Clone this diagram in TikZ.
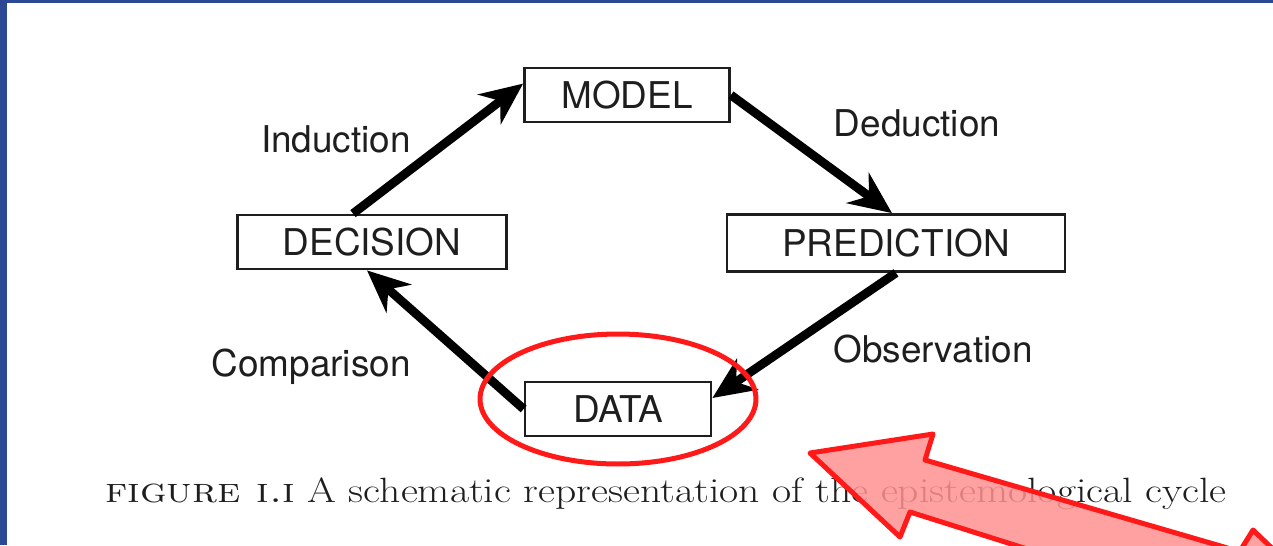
\documentclass[tikz,border=0pt]{standalone}
\usepackage{fontspec}
\setsansfont{TeX Gyre Heros}
\usepackage{xcolor}
\definecolor{frame}{RGB}{43, 72, 148}
\definecolor{ink}{RGB}{30, 30, 30}
\definecolor{marker}{RGB}{255, 25, 25}
\definecolor{markfill}{RGB}{255, 145, 145}
\usetikzlibrary{arrows.meta,positioning}

\tikzset{
  stage/.style={draw=ink, line width=1.6pt, minimum height=1.08cm, inner sep=0pt,
    font=\sffamily\fontsize{21}{24}\selectfont, text=ink},
  flow/.style={-{Stealth[length=8.5mm, width=7.5mm, inset=2.8mm]}, line width=5pt, black},
  tag/.style={font=\sffamily\fontsize{21}{24}\selectfont, text=ink},
}

\begin{document}
\begin{tikzpicture}[x=0.02cm, y=-0.02cm, >=Stealth]
    \useasboundingbox (0,0) rectangle (1273,545);

    % Frame
    \fill[frame] (0,0) rectangle (7,545);
    \fill[frame] (0,0) rectangle (1273,3);

    % Stages of the cycle
    \node[stage, minimum width=4.1cm]  (model)      at (627,95)  {MODEL};
    \node[stage, minimum width=5.38cm] (decision)   at (372,242) {DECISION};
    \node[stage, minimum width=6.76cm, minimum height=1.14cm] (prediction) at (896,243) {PREDICTION};
    \node[stage, minimum width=3.72cm] (data)       at (618,409) {DATA};

    % Arrows
    \draw[flow] ([xshift=-0.38cm]decision.north) -- ([yshift=-0.34cm]model.north west);
    \draw[flow] (model.east) -- ([xshift=-0.08cm]prediction.north);
    \draw[flow] (prediction.south) -- ([yshift=0.22cm]data.east);
    \draw[flow] (data.west) -- ([xshift=-0.1cm]decision.south);

    % Labels
    \node[tag] (induction)   at (336,139) {Induction};
    \node[tag] (deduction)   at (917,123) {Deduction};
    \node[tag] (comparison)  at (311,367) {Comparison};
    \node[tag] (observation) at (933,349) {Observation};

    % Caption
    \node[anchor=base west, inner sep=0pt, font=\fontsize{20}{24}\selectfont, text=ink] (caption)
        at (105,502) {\scalebox{1.185}[1]{\textsc{figure i.i} A schematic representation of the epistemological cycle}};

    % Highlight
    \draw[marker, line width=0.1cm] ([yshift=0.2cm]data.center) ellipse [x radius=2.76cm, y radius=1.3cm];

    \begin{scope}
      \clip (0,0) rectangle (1273,545);
      \filldraw[marker, fill=markfill, fill opacity=0.85, line width=0.1cm, line join=round]
        (810,453) -- (933,434) -- (925,460) -- (1310,572) -- (1100,572)
        -- (910,512) -- (900,537) -- cycle;
      \filldraw[marker, fill=markfill, fill opacity=0.85, line width=0.1cm, line join=round]
        (1253,530) -- (1225,575) -- (1300,575) -- cycle;
    \end{scope}
\end{tikzpicture}
\end{document}
